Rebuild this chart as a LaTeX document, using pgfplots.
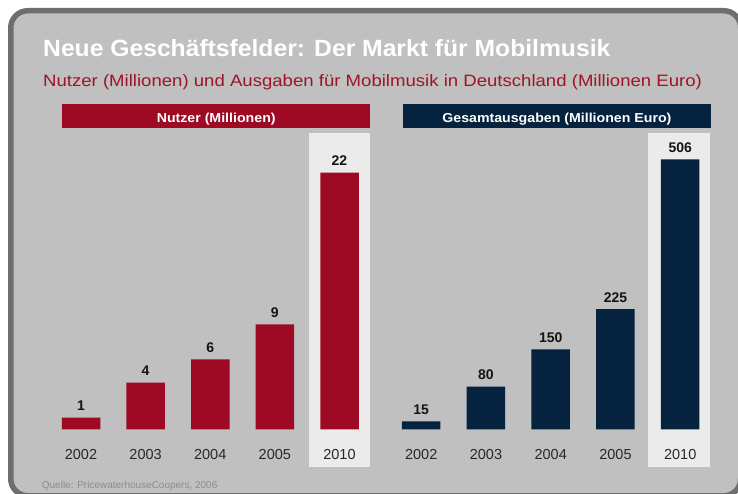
\documentclass[border=0pt]{standalone}
\usepackage{pgfplots}
\pgfplotsset{compat=1.18}
\usepackage{fontspec}
\setmainfont{Liberation Sans}
\usepackage{graphicx}
\definecolor{framec}{RGB}{110,110,110}
\definecolor{bgc}{RGB}{192,192,192}
\definecolor{hlc}{RGB}{235,235,235}
\definecolor{barred}{RGB}{158,10,36}
\definecolor{barnavy}{RGB}{5,35,62}
\definecolor{subred}{RGB}{160,20,40}
\definecolor{tickc}{RGB}{40,40,40}
\definecolor{valc}{RGB}{20,20,20}
\definecolor{srcc}{RGB}{140,140,140}
\pgfplotsset{mybars/.style={
  ybar, bar width=38.5pt, scale only axis, anchor=south west, clip=false,
  axis line style={draw=none}, tick style={draw=none}, ytick=\empty,
  xtick={0,1,2,3,4}, xticklabels={2002,2003,2004,2005,2010},
  xmin=-0.5, xmax=4.5, ymin=0, enlargelimits=false,
  /pgf/number format/assume math mode=true,
  xticklabel style={font=\fontsize{14.5}{16}\selectfont, text=tickc, anchor=base, yshift=-26.4pt},
  nodes near coords,
  every node near coord/.append style={font=\bfseries\fontsize{14}{16}\selectfont, text=valc, anchor=base, yshift=7pt},
}}
\begin{document}
\begin{tikzpicture}[x=1pt,y=1pt]
\useasboundingbox (0,0) rectangle (738,493);
\clip (0,0) rectangle (738,493);
\fill[white] (0,0) rectangle (738,493);
\draw[line width=5.5pt, draw=framec, fill=bgc, rounded corners=17pt] (10.75,-2.75) rectangle (740.75,482.25);
% titles
\node[anchor=base west, inner sep=0pt, text=white] at (43,436.3) {\scalebox{1.05}[1]{\bfseries\fontsize{23.5}{28}\selectfont Neue Geschäftsfelder: Der Markt für Mobilmusik}};
\node[anchor=base west, inner sep=0pt, text=subred] at (43,406.3) {\scalebox{1.126}[1]{\fontsize{16.5}{20}\selectfont Nutzer (Millionen) und Ausgaben für Mobilmusik in Deutschland (Millionen Euro)}};
% header bars
\fill[barred] (62.3,365.3) rectangle (370,388.7);
\fill[barnavy] (402.7,365.3) rectangle (711,388.7);
\node[anchor=base, inner sep=0pt, text=white] at (216.2,370.3) {\scalebox{1.09}[1]{\bfseries\fontsize{13}{16}\selectfont Nutzer (Millionen)}};
\node[anchor=base, inner sep=0pt, text=white] at (556.9,370.3) {\scalebox{1.09}[1]{\bfseries\fontsize{13}{16}\selectfont Gesamtausgaben (Millionen Euro)}};
% highlight columns
\fill[hlc] (308.7,25.7) rectangle (370,359.7);
\fill[hlc] (647.7,25.7) rectangle (710,359.7);
% source
\node[anchor=base west, inner sep=0pt, text=srcc] at (41.7,5) {\fontsize{10}{12}\selectfont Quelle: PricewaterhouseCoopers, 2006};
\begin{axis}[mybars, at={(48.6875pt,63.7pt)}, width=323.125pt, height=296pt, ymax=25.377]
\addplot[fill=barred, draw=none] coordinates {(0,1) (1,4) (2,6) (3,9) (4,22)};
\end{axis}
\begin{axis}[mybars, at={(388.825pt,63.7pt)}, width=323.75pt, height=296pt, ymax=554.7]
\addplot[fill=barnavy, draw=none] coordinates {(0,15) (1,80) (2,150) (3,225) (4,506)};
\end{axis}
\end{tikzpicture}
\end{document}
